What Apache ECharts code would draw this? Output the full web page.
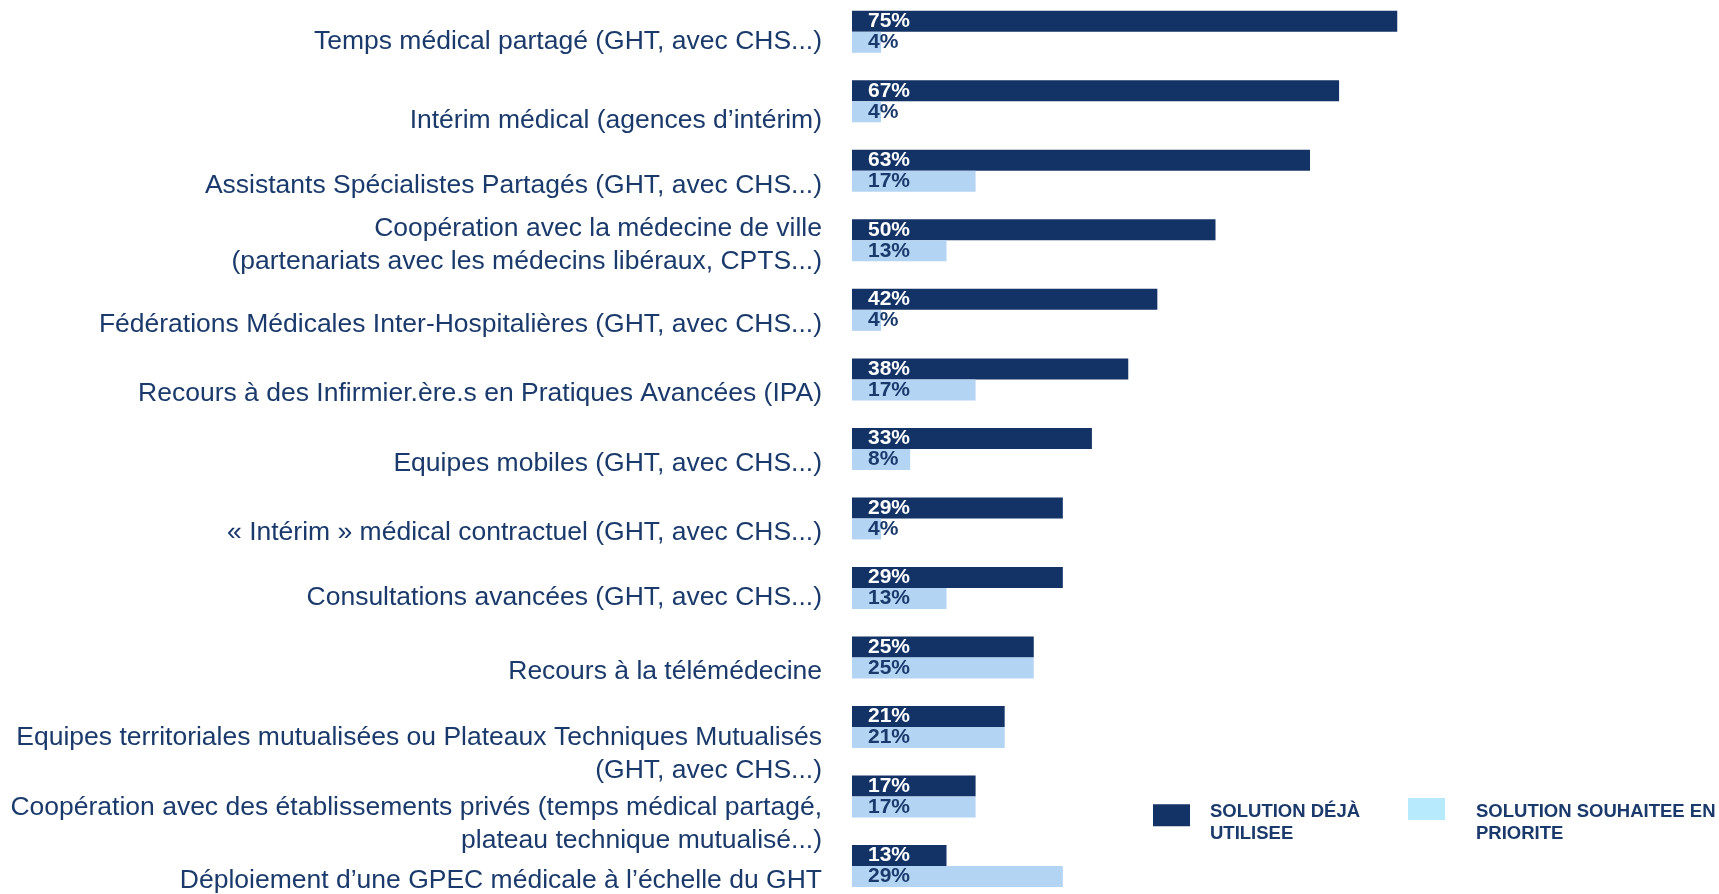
<!DOCTYPE html>
<html>
<head>
<meta charset="utf-8">
<script src="https://cdn.jsdelivr.net/npm/echarts@6/dist/echarts.min.js"></script>
<style>
html,body{margin:0;padding:0;background:#fff;}
#chart{width:1719px;height:894px;}
</style>
</head>
<body>
<div id="chart"></div>
<script>
const categories = [
  "Temps médical partagé (GHT, avec CHS...)",
  "Intérim médical (agences d’intérim)",
  "Assistants Spécialistes Partagés (GHT, avec CHS...)",
  "Coopération avec la médecine de ville\n(partenariats avec les médecins libéraux, CPTS...)",
  "Fédérations Médicales Inter-Hospitalières (GHT, avec CHS...)",
  "Recours à des Infirmier.ère.s en Pratiques Avancées (IPA)",
  "Equipes mobiles (GHT, avec CHS...)",
  "« Intérim » médical contractuel (GHT, avec CHS...)",
  "Consultations avancées (GHT, avec CHS...)",
  "Recours à la télémédecine",
  "Equipes territoriales mutualisées ou Plateaux Techniques Mutualisés\n(GHT, avec CHS...)",
  "Coopération avec des établissements privés (temps médical partagé,\nplateau technique mutualisé...)",
  "Déploiement d’une GPEC médicale à l’échelle du GHT"
];
const seriesNames = ["SOLUTION DÉJÀ\nUTILISEE", "SOLUTION SOUHAITEE EN\nPRIORITE"];
const usedValues = [75, 67, 63, 50, 42, 38, 33, 29, 29, 25, 21, 17, 13];
const wishedValues = [4, 4, 17, 13, 4, 17, 8, 4, 13, 25, 21, 17, 29];

// ---- styling / layout (not data) ----
const NAVY = '#133366';
const LIGHT = '#B3D4F3';
const LEGEND_LIGHT = '#B8EAFE';
const TEXT = '#1A3A6C';
const FONT = '"Liberation Sans", Arial, sans-serif';

// vertical nudge of the category text boxes (spacer line height), as in the original slide
const labelSpacerKey = {0: 'sS', 1: 'sB', 3: 'sU', 8: 'sS', 10: 'sL', 11: 'sL'};

function richLines(text, spacer) {
  return '{' + spacer + '| }\n' + text.split('\n').map(l => '{t|' + l + '}').join('\n');
}

const legendRich = (sp) => ({
  s1: {fontSize: 2, lineHeight: sp},
  t: {fontFamily: FONT, fontSize: 18.5, fontWeight: 'bold', color: TEXT, lineHeight: 22}
});

const chart = echarts.init(document.getElementById('chart'), null, {renderer: 'canvas'});
chart.setOption({
  animation: false,
  backgroundColor: '#fff',
  textStyle: {fontFamily: FONT},
  grid: {left: 852, width: 727, top: 31.8, height: 838.1, containLabel: false},
  xAxis: {type: 'value', min: 0, max: 100, show: false},
  yAxis: {
    type: 'category', data: categories, inverse: true, boundaryGap: false,
    axisLine: {show: false}, axisTick: {show: false}, splitLine: {show: false},
    axisLabel: {
      interval: 0, margin: 30, align: 'right',
      formatter: (v, i) => richLines(v, labelSpacerKey[i] || 's'),
      rich: {
        s: {fontSize: 2, lineHeight: 29},
        sB: {fontSize: 2, lineHeight: 39},
        sU: {fontSize: 2, lineHeight: 9},
        sS: {fontSize: 2, lineHeight: 19},
        sL: {fontSize: 2, lineHeight: 55},
        t: {fontSize: 26.5, color: TEXT, fontFamily: FONT, lineHeight: 33, align: 'right'}
      }
    }
  },
  legend: [
    {
      left: 1148, top: 787.3, orient: 'horizontal',
      itemWidth: 37, itemHeight: 22, selectedMode: false,
      icon: 'rect',
      data: [{name: seriesNames[0], itemStyle: {color: NAVY}}],
      formatter: n => richLines(n, 's1'),
      textStyle: {padding: [0, 0, 0, 15], rich: legendRich(16)}
    },
    {
      left: 1403, top: 781, orient: 'horizontal',
      itemWidth: 37, itemHeight: 22, selectedMode: false,
      icon: 'rect',
      data: [{name: seriesNames[1], itemStyle: {color: LEGEND_LIGHT}}],
      formatter: n => richLines(n, 's1'),
      textStyle: {padding: [0, 0, 0, 26], rich: legendRich(28.4)}
    }
  ],
  series: [
    {
      name: seriesNames[0], type: 'bar', data: usedValues,
      barWidth: 21, barGap: '0%',
      itemStyle: {color: NAVY},
      label: {
        show: true, position: 'insideLeft', distance: 16,
        formatter: p => p.value + '%',
        color: '#fff', fontWeight: 'bold', fontSize: 21, fontFamily: FONT
      }
    },
    {
      name: seriesNames[1], type: 'bar', data: wishedValues,
      barWidth: 21, barGap: '0%',
      itemStyle: {color: LIGHT},
      label: {
        show: true, position: 'insideLeft', distance: 16,
        formatter: p => p.value + '%',
        color: TEXT, fontWeight: 'bold', fontSize: 21, fontFamily: FONT
      }
    }
  ]
});
</script>
</body>
</html>
